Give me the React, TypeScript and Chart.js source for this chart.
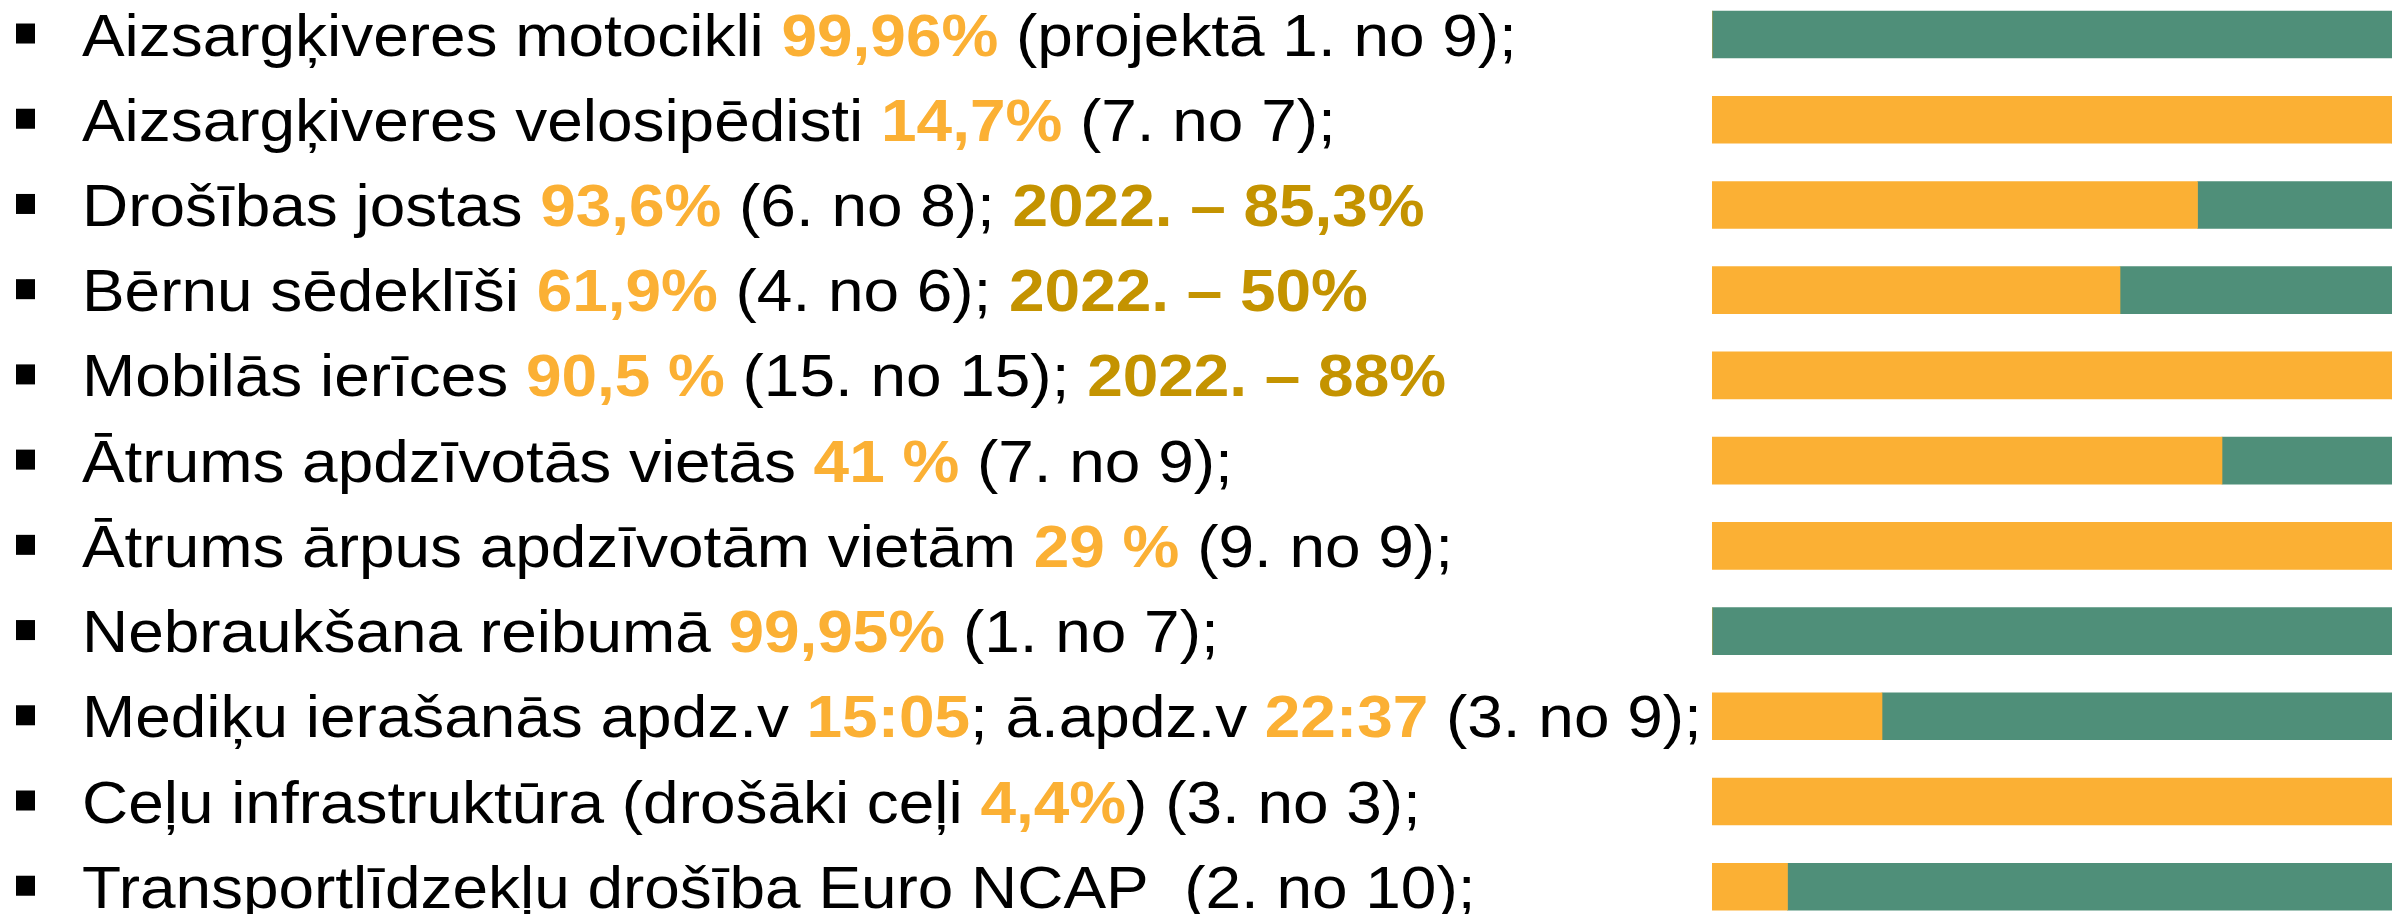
import React, { useEffect, useRef } from "react";
import { Chart, registerables } from "chart.js";

Chart.register(...registerables);

// Row labels (plain text) – rich segments below carry the colouring
const categories = [
  "Aizsargķiveres motocikli 99,96% (projektā 1. no 9);",
  "Aizsargķiveres velosipēdisti 14,7% (7. no 7);",
  "Drošības jostas 93,6% (6. no 8); 2022. – 85,3%",
  "Bērnu sēdeklīši 61,9% (4. no 6); 2022. – 50%",
  "Mobilās ierīces 90,5 % (15. no 15); 2022. – 88%",
  "Ātrums apdzīvotās vietās 41 % (7. no 9);",
  "Ātrums ārpus apdzīvotām vietām 29 % (9. no 9);",
  "Nebraukšana reibumā 99,95% (1. no 7);",
  "Mediķu ierašanās apdz.v 15:05; ā.apdz.v 22:37 (3. no 9);",
  "Ceļu infrastruktūra (drošāki ceļi 4,4%) (3. no 3);",
  "Transportlīdzekļu drošība Euro NCAP  (2. no 10);",
];

// n = normal black, h = bold orange highlight, y = bold dark-gold (2022 values)
const labelParts: [string, string][][] = [
  [["Aizsargķiveres motocikli ", "n"], ["99,96%", "h"], [" (projektā 1. no 9);", "n"]],
  [["Aizsargķiveres velosipēdisti ", "n"], ["14,7%", "h"], [" (7. no 7);", "n"]],
  [["Drošības jostas ", "n"], ["93,6%", "h"], [" (6. no 8); ", "n"], ["2022. – 85,3%", "y"]],
  [["Bērnu sēdeklīši ", "n"], ["61,9%", "h"], [" (4. no 6); ", "n"], ["2022. – 50%", "y"]],
  [["Mobilās ierīces ", "n"], ["90,5 %", "h"], [" (15. no 15); ", "n"], ["2022. – 88%", "y"]],
  [["Ātrums apdzīvotās vietās ", "n"], ["41 %", "h"], [" (7. no 9);", "n"]],
  [["Ātrums ārpus apdzīvotām vietām ", "n"], ["29 %", "h"], [" (9. no 9);", "n"]],
  [["Nebraukšana reibumā ", "n"], ["99,95%", "h"], [" (1. no 7);", "n"]],
  [["Mediķu ierašanās apdz.v ", "n"], ["15:05", "h"], ["; ā.apdz.v ", "n"], ["22:37", "h"], [" (3. no 9);", "n"]],
  [["Ceļu infrastruktūra (drošāki ceļi ", "n"], ["4,4%", "h"], [") (3. no 3);", "n"]],
  [["Transportlīdzekļu drošība Euro NCAP  (2. no 10);", "n"]],
];

// Bar segments (percent of bar length)
const orangeValues = [0, 100, 71.4, 60, 100, 75, 100, 0, 25, 100, 11.1];
const greenValues = [100, 0, 28.6, 40, 0, 25, 0, 100, 75, 0, 88.9];

const ORANGE = "#FBB034";
const GREEN = "#4F8F79";
const GOLD = "#C49300";

const richLabels = {
  id: "richLabels",
  afterDraw(chart: any) {
    const ctx = chart.ctx as CanvasRenderingContext2D;
    const yScale = chart.scales.y;
    ctx.save();
    labelParts.forEach((parts, i) => {
      const yc = yScale.getPixelForValue(i);
      ctx.fillStyle = "#000";
      ctx.fillRect(16, yc - 11, 19, 20);
      ctx.save();
      ctx.translate(82, yc + 21);
      ctx.scale(1.065, 1);
      ctx.textBaseline = "alphabetic";
      let x = 0;
      parts.forEach(([text, kind]) => {
        ctx.font =
          kind === "n"
            ? "60px 'Liberation Sans', Arial, sans-serif"
            : "bold 60px 'Liberation Sans', Arial, sans-serif";
        ctx.fillStyle = kind === "n" ? "#000" : kind === "h" ? ORANGE : GOLD;
        ctx.fillText(text, x, 0);
        x += ctx.measureText(text).width;
      });
      ctx.restore();
    });
    ctx.restore();
  },
};

export default function App() {
  const ref = useRef<HTMLCanvasElement | null>(null);
  useEffect(() => {
    if (!ref.current) return;
    const chart = new Chart(ref.current, {
      type: "bar",
      data: {
        datasets: [
          {
            label: "Vieta",
            data: orangeValues.map((v, i) => ({ x: v, y: i })),
            backgroundColor: ORANGE,
            barThickness: 47,
          },
          {
            label: "Atlikums",
            data: greenValues.map((v, i) => ({ x: v, y: i })),
            backgroundColor: GREEN,
            barThickness: 47,
          },
        ] as any,
      },
      options: {
        indexAxis: "y",
        animation: false,
        responsive: false,
        maintainAspectRatio: false,
        layout: { padding: { left: 1712, right: 5, top: 0, bottom: 0 } },
        plugins: {
          legend: { display: false },
          tooltip: { enabled: false },
        },
        scales: {
          x: { type: "linear", min: 0, max: 100, stacked: true, display: false },
          y: {
            type: "linear",
            reverse: true,
            min: -0.405,
            max: 10.32,
            offset: false,
            stacked: true,
            display: false,
          },
        },
      },
      plugins: [richLabels],
    });
    return () => chart.destroy();
  }, []);
  return (
    <div style={{ position: "fixed", left: 0, top: 0, width: 2397, height: 914, background: "#fff" }}>
      <canvas ref={ref} width={2397} height={914} style={{ display: "block" }} aria-label={categories.join(" | ")} />
    </div>
  );
}
